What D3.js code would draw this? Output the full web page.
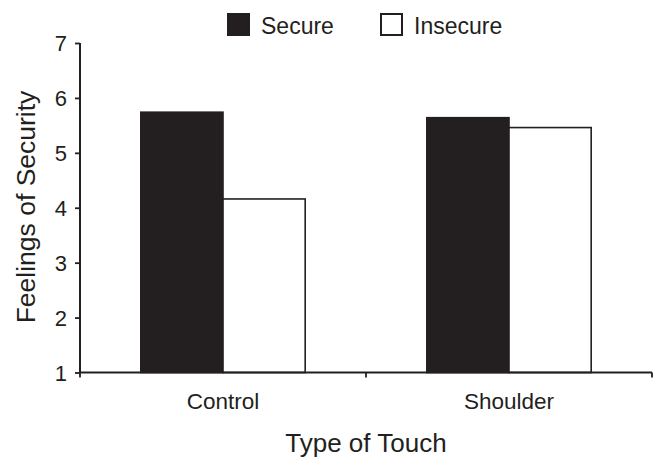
<!DOCTYPE html>
<html>
<head>
<meta charset="utf-8">
<script src="https://cdn.jsdelivr.net/npm/d3@7"></script>
<style>
  body { margin: 0; background: #fff; }
  svg { display: block; }
  text { font-family: "Liberation Sans", Arial, sans-serif; fill: #231f20; }
</style>
</head>
<body>
<svg id="chart" width="656" height="463"></svg>
<script>
const categories = ["Control", "Shoulder"];
const seriesNames = ["Secure", "Insecure"];
const secureValues = [5.74, 5.64];
const insecureValues = [4.16, 5.46];
const yTicks = [1, 2, 3, 4, 5, 6, 7];

const ink = "#231f20";
const fills = { Secure: ink, Insecure: "#ffffff" };
const svg = d3.select("#chart");

const x0 = d3.scaleBand().domain(categories).range([80, 652]).padding(0);
const x1 = d3.scaleBand().domain(seriesNames).range([0, x0.bandwidth()]).paddingInner(0).paddingOuter(0.74);
const y = d3.scaleLinear().domain([1, 7]).range([372.5, 43]);

const data = categories.map((c, i) => ({
  cat: c,
  vals: [{ s: "Secure", v: secureValues[i] }, { s: "Insecure", v: insecureValues[i] }]
}));

// bars
const groups = svg.selectAll("g.grp").data(data).enter().append("g")
  .attr("class", "grp")
  .attr("transform", d => `translate(${x0(d.cat)},0)`);
groups.selectAll("rect").data(d => d.vals).enter().append("rect")
  .attr("x", d => x1(d.s))
  .attr("y", d => y(d.v))
  .attr("width", x1.bandwidth())
  .attr("height", d => y(1) - y(d.v))
  .attr("fill", d => fills[d.s])
  .attr("stroke", ink)
  .attr("stroke-width", 1.6);

// y axis
const yAxis = svg.append("g").attr("transform", "translate(80,0)")
  .call(d3.axisLeft(y).tickValues(yTicks).tickFormat(d3.format("d")).tickSize(5).tickPadding(8));
yAxis.select(".domain").attr("stroke", ink).attr("stroke-width", 2).attr("d", `M0,${y(7)}V${y(1)}`);
yAxis.selectAll(".tick line").attr("stroke", ink).attr("stroke-width", 1.8);
yAxis.selectAll(".tick text").attr("font-size", 22).attr("fill", ink)
  .attr("font-family", '"Liberation Sans", Arial, sans-serif').attr("dy", "0.36em");

// x axis
const xAxis = svg.append("g").attr("transform", `translate(0,${y(1)})`);
xAxis.append("line").attr("x1", 80).attr("x2", 652).attr("y1", 0).attr("y2", 0)
  .attr("stroke", ink).attr("stroke-width", 2);
const xBoundaries = [x0(categories[0]), x0(categories[1]), x0(categories[1]) + x0.bandwidth()];
xAxis.selectAll("line.tk").data(xBoundaries).enter().append("line")
  .attr("class", "tk")
  .attr("x1", d => d).attr("x2", d => d).attr("y1", 0).attr("y2", 5)
  .attr("stroke", ink).attr("stroke-width", 1.8);
xAxis.selectAll("text.cat").data(categories).enter().append("text")
  .attr("class", "cat")
  .attr("x", d => x0(d) + x0.bandwidth() / 2)
  .attr("y", 36)
  .attr("text-anchor", "middle")
  .attr("font-size", 22.5)
  .text(d => d);

// axis titles
svg.append("text")
  .attr("x", 366).attr("y", 452)
  .attr("text-anchor", "middle")
  .attr("font-size", 26)
  .text("Type of Touch");
svg.append("text")
  .attr("transform", "translate(35,207) rotate(-90)")
  .attr("text-anchor", "middle")
  .attr("font-size", 26.5)
  .text("Feelings of Security");

// legend
const legendX = [227, 380];
const leg = svg.selectAll("g.leg").data(seriesNames).enter().append("g")
  .attr("class", "leg")
  .attr("transform", (d, i) => `translate(${legendX[i]},13)`);
leg.append("rect")
  .attr("x", 1).attr("y", 1).attr("width", 21).attr("height", 21)
  .attr("fill", d => fills[d]).attr("stroke", ink).attr("stroke-width", 2);
leg.append("text")
  .attr("x", 34).attr("y", 20.5)
  .attr("font-size", 23)
  .text(d => d);
</script>
</body>
</html>
